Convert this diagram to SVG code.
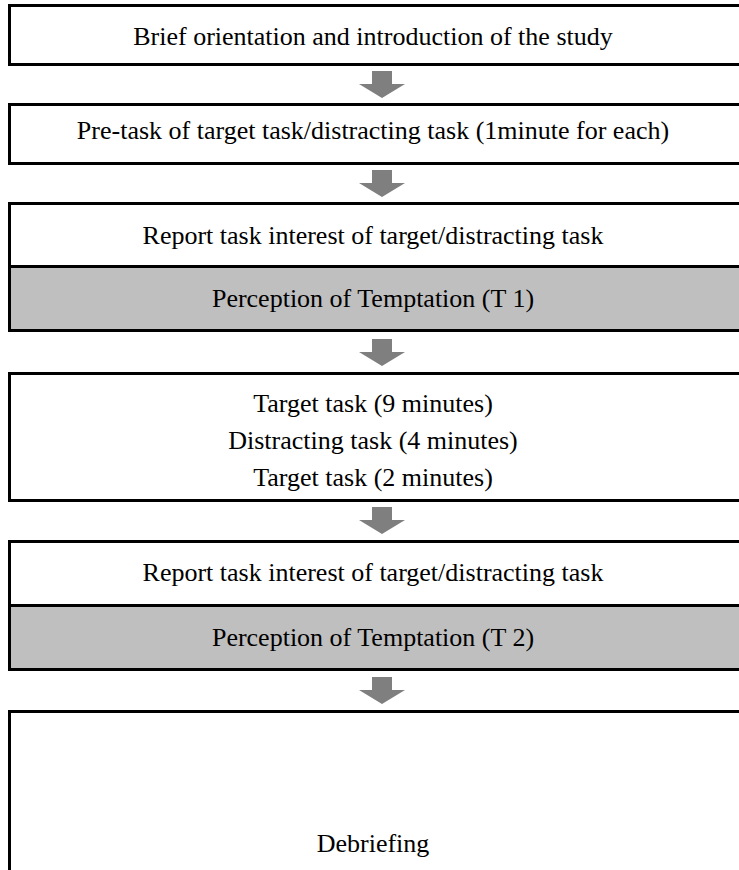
<svg xmlns="http://www.w3.org/2000/svg" width="739" height="870" viewBox="0 0 739 870">
<style>
.box{fill:#ffffff;stroke:#000000;stroke-width:3}
.grey{fill:#bfbfbf;stroke:#000000;stroke-width:3}
.t{font-family:"Liberation Serif","Times New Roman",serif;font-size:26px;fill:#000000;text-anchor:middle}
.arr{fill:#7f7f7f}
</style>
<defs>
<path id="arrow" d="M-10,0 H10 V13 H23 L0,27 L-23,13 H-10 Z"/>
</defs>
<rect x="0" y="0" width="739" height="870" fill="#ffffff"/>
<g id="n1"><rect class="box" x="9.5" y="5.5" width="740" height="59"/><text class="t" x="373" y="45">Brief orientation and introduction of the study</text></g>
<g id="n2"><rect class="box" x="9.5" y="104.5" width="740" height="59"/><text class="t" x="373" y="139">Pre-task of target task/distracting task (1minute for each)</text></g>
<g id="n3"><rect class="box" x="9.5" y="203.5" width="740" height="63"/><rect class="grey" x="9.5" y="266.5" width="740" height="64"/><text class="t" x="373" y="244">Report task interest of target/distracting task</text><text class="t" x="373" y="307">Perception of Temptation (T 1)</text></g>
<g id="n4"><rect class="box" x="9.5" y="373.5" width="740" height="127"/><text class="t" x="373" y="412">Target task (9 minutes)</text><text class="t" x="373" y="449">Distracting task (4 minutes)</text><text class="t" x="373" y="486">Target task (2 minutes)</text></g>
<g id="n5"><rect class="box" x="9.5" y="541.5" width="740" height="64"/><rect class="grey" x="9.5" y="605.5" width="740" height="64"/><text class="t" x="373" y="581">Report task interest of target/distracting task</text><text class="t" x="373" y="646">Perception of Temptation (T 2)</text></g>
<g id="n6"><rect class="box" x="9.5" y="711.5" width="740" height="170"/><text class="t" x="373" y="852">Debriefing</text></g>
<g id="connectors" class="arr">
<use href="#arrow" x="382" y="71"/>
<use href="#arrow" x="382" y="170"/>
<use href="#arrow" x="382" y="339"/>
<use href="#arrow" x="382" y="507"/>
<use href="#arrow" x="382" y="677"/>
</g>
</svg>
